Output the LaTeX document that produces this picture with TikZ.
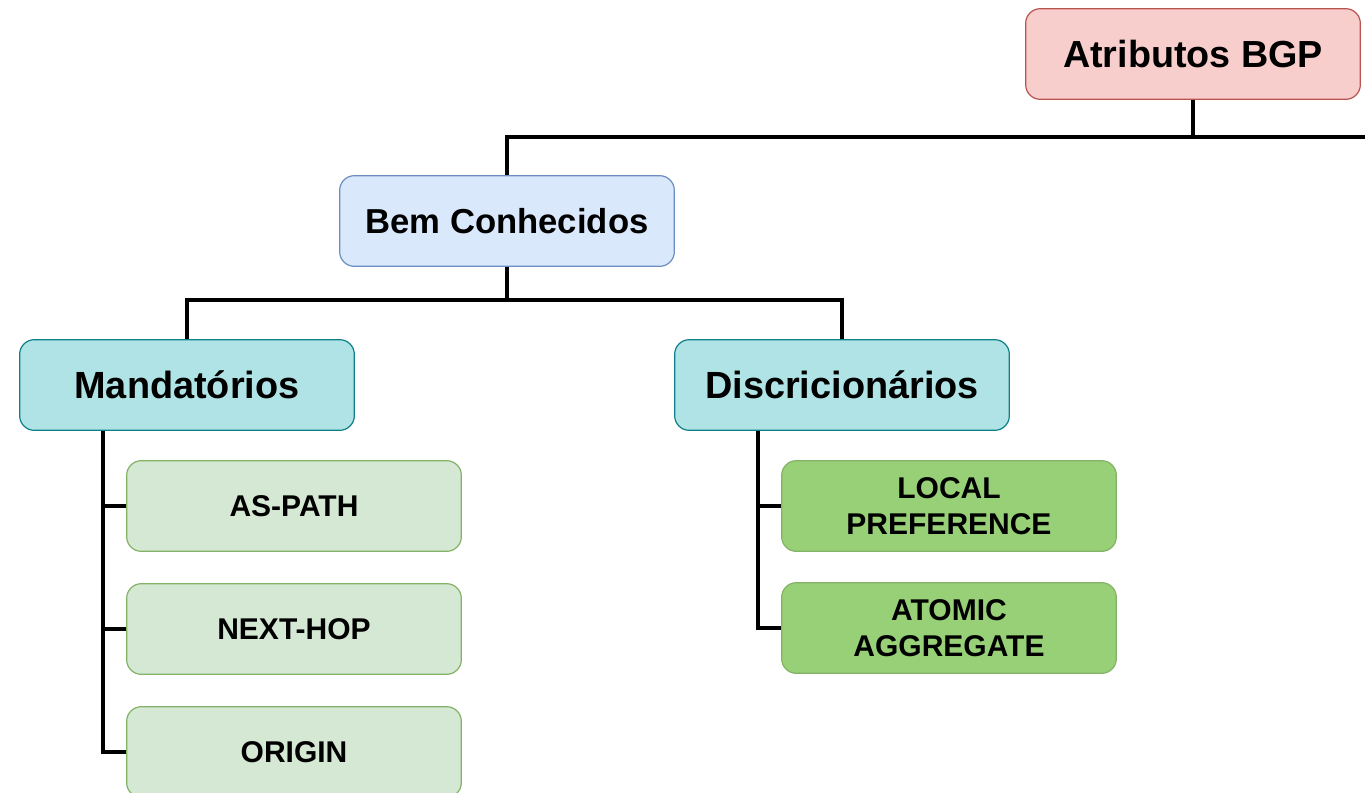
\documentclass[tikz,border=0pt]{standalone}
\usepackage{fontspec}
\setmainfont{Liberation Sans}
\usetikzlibrary{positioning}

\definecolor{rootfill}{HTML}{F8CECC}
\definecolor{rootline}{HTML}{B85450}
\definecolor{knownfill}{HTML}{DAE8FC}
\definecolor{knownline}{HTML}{6C8EBF}
\definecolor{kindfill}{HTML}{B0E3E6}
\definecolor{kindline}{HTML}{0E8088}
\definecolor{mandfill}{HTML}{D5E8D4}
\definecolor{discfill}{HTML}{97D077}
\definecolor{leafline}{HTML}{82B366}

\begin{document}
\begin{tikzpicture}[x=0.75pt, y=-0.75pt,
		box/.style={rounded corners=11pt, line width=0.9pt, minimum width=251pt,
			minimum height=68pt, inner sep=0pt, align=center, font=\bfseries},
		rootbox/.style={box, fill=rootfill, draw=rootline, font=\bfseries\fontsize{28.3}{32}\selectfont},
		knownbox/.style={box, fill=knownfill, draw=knownline, font=\bfseries\fontsize{26}{30}\selectfont},
		kindbox/.style={box, fill=kindfill, draw=kindline, font=\bfseries\fontsize{28.4}{32}\selectfont},
		mandbox/.style={box, fill=mandfill, draw=leafline, font=\bfseries\fontsize{22.5}{26.5}\selectfont},
		discbox/.style={box, fill=discfill, draw=leafline, font=\bfseries\fontsize{22.5}{26.5}\selectfont},
		link/.style={line width=2.4pt}]
		\useasboundingbox (0,0) rectangle (1365,793);
		%draw nodes
		\node[rootbox] (attr) at (1193,54) {Atributos BGP};
		\node[knownbox] (known) at (507,221) {Bem Conhecidos};
		\node[kindbox] (mand) at (187,385) {Mandatórios};
		\node[kindbox] (disc) at (842,385) {Discricionários};
		\node[mandbox] (aspath) at (294,506) {AS-PATH};
		\node[mandbox] (nexthop) at (294,629) {NEXT-HOP};
		\node[mandbox] (origin) at (294,752) {ORIGIN};
		\node[discbox] (localpref) at (949,506) {LOCAL\\PREFERENCE};
		\node[discbox] (atomic) at (949,628) {ATOMIC\\AGGREGATE};
		\coordinate (rightend) at (1365,137);
		
		%draw tree lines
		\draw[link] (attr.south) |- (rightend);
		\draw[link] (attr.south) -- ++(0,37) -| (known.north);
		\draw[link] (known.south) -- ++(0,33) -| (mand.north);
		\draw[link] (known.south) -- ++(0,33) -| (disc.north);
		\foreach \leaf in {aspath, nexthop, origin}{
			\draw[link] ([xshift=-63pt]mand.south) |- (\leaf.west);
		}
		\foreach \leaf in {localpref, atomic}{
			\draw[link] ([xshift=-63pt]disc.south) |- (\leaf.west);
		}
\end{tikzpicture}
\end{document}
